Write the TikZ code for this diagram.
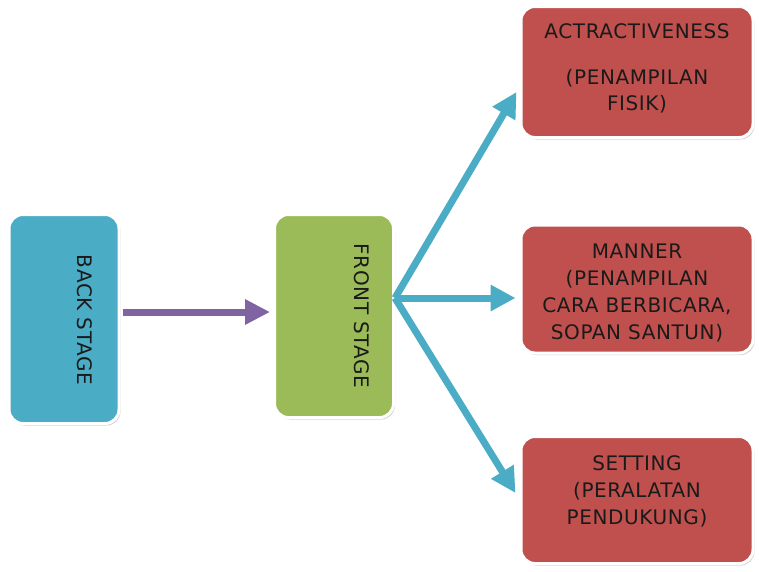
\documentclass[tikz,border=0pt]{standalone}
\usepackage{fontspec}
\setmainfont{DejaVu Sans}[LetterSpace=3]
\usetikzlibrary{arrows.meta,shadows}
\definecolor{cblue}{HTML}{4BACC6}
\definecolor{cgreen}{HTML}{9BBB59}
\definecolor{cred}{HTML}{C0504D}
\definecolor{cpurple}{HTML}{8064A2}
\definecolor{ctext}{HTML}{1A1A1A}
\tikzset{
  box/.style={rectangle, rounded corners=14pt, draw=white, line width=3pt, inner sep=0pt,
    drop shadow={shadow xshift=1.5pt, shadow yshift=-2pt, opacity=0.35, fill=gray}},
  lbl/.style={font=\fontsize{20}{27}\selectfont, text=ctext, align=center, inner sep=0pt},
  bluearrow/.style={draw=cblue, line width=7pt, -{Triangle[length=25pt,width=25pt]}},
  purplearrow/.style={draw=cpurple, line width=7pt, -{Triangle[length=25pt,width=24pt]}},
}
\begin{document}
\begin{tikzpicture}[x=1pt,y=-1pt]
\useasboundingbox[fill=white] (0,0) rectangle (759,571);
% boxes
\node[box, fill=cblue, minimum width=110pt, minimum height=209pt] (back) at (64,319) {};
\node[box, fill=cgreen, minimum width=119pt, minimum height=203pt] (front) at (334,316) {};
\node[box, fill=cred, minimum width=232pt, minimum height=131pt] (attr) at (637,72) {};
\node[box, fill=cred, minimum width=232pt, minimum height=128pt] (manner) at (637,289) {};
\node[box, fill=cred, minimum width=232pt, minimum height=127pt] (setting) at (637,500) {};
% texts
\node[lbl, rotate=-90] (backtxt) at (85,320) {BACK STAGE};
\node[lbl, rotate=-90] (fronttxt) at (362,316) {FRONT STAGE};
\node[lbl, font=\fontsize{20}{26}\selectfont] (attrtxt) at (637,68) {ACTRACTIVENESS\\[20pt](PENAMPILAN\\FISIK)};
\node[lbl] (mannertxt) at (637,293) {MANNER\\(PENAMPILAN\\CARA BERBICARA,\\SOPAN SANTUN)};
\node[lbl] (settingtxt) at (637,491) {SETTING\\(PERALATAN\\PENDUKUNG)};
% connectors
\coordinate (fork) at (395,298);
\draw[purplearrow] ([yshift=7pt,xshift=2pt]back.east) -- ([yshift=4pt,xshift=-3pt]front.west);
\draw[bluearrow] (fork) -- ([yshift=-20pt,xshift=-3pt]attr.west);
\draw[bluearrow] (fork) -- ([yshift=-9pt,xshift=-4pt]manner.west);
\draw[bluearrow] (fork) -- ([yshift=7pt,xshift=-4pt]setting.west);
\end{tikzpicture}
\end{document}
